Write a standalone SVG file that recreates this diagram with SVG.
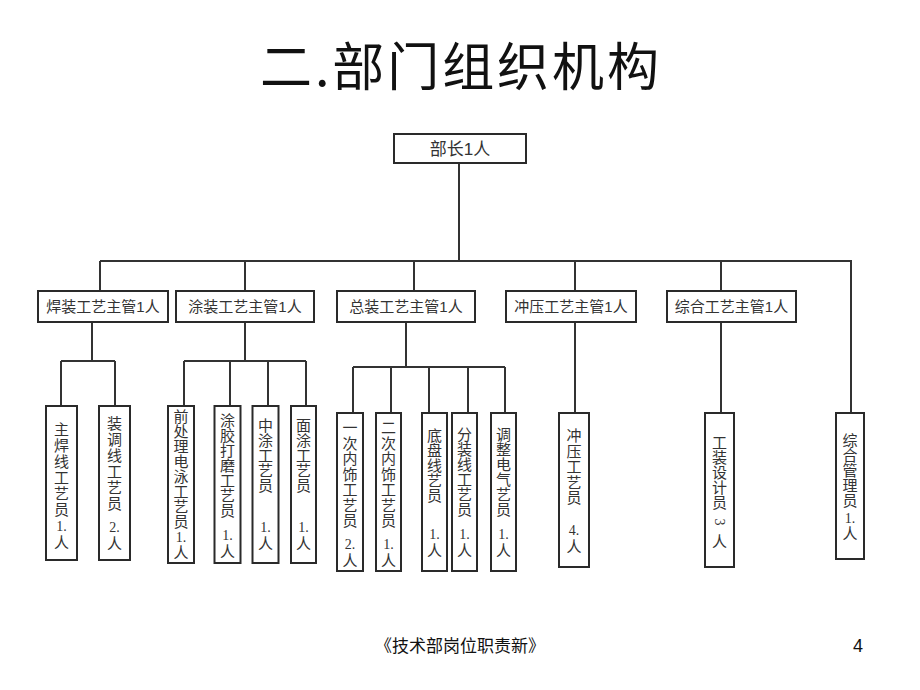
<svg xmlns="http://www.w3.org/2000/svg" width="920" height="690" viewBox="0 0 920 690">
<style>
.bg{fill:#fff}
.box{fill:#fff;stroke:#2a2a2a;stroke-width:2}
.ln{stroke:#333;stroke-width:2;fill:none}
.title{font-family:"Noto Sans CJK SC",sans-serif;font-size:52px;fill:#111}
.mt{font-family:"Liberation Sans","Noto Sans CJK SC",sans-serif;font-size:15px;fill:#333;text-anchor:middle}
.mt1{font-family:"Liberation Sans","Noto Sans CJK SC",sans-serif;font-size:17px;fill:#333;text-anchor:middle}
.vt{font-family:"Liberation Serif","Noto Sans CJK SC",serif;font-size:15px;fill:#333;text-anchor:middle}
.num{font-family:"Liberation Serif",serif;font-size:14px;fill:#333;text-anchor:middle}
.foot{font-family:"Liberation Sans","Noto Sans CJK SC",sans-serif;font-size:17px;fill:#111}
</style>
<rect class="bg" x="0" y="0" width="920" height="690"/>
<text class="title" x="260" y="86" textLength="399" lengthAdjust="spacing">二.部门组织机构</text>

<g id="connectors">
<path class="ln" d="M459,163V261M100,261H851V413M100,261V291M245,261V291M414,261V291M575,261V291M721,261V291"/>
<path class="ln" d="M92,322V361M61,361H115M61,361V406M115,361V406"/>
<path class="ln" d="M245,322V361M184,361H306M184,361V406M230,361V406M268,361V406M306,361V406"/>
<path class="ln" d="M406,322V367M353,367H505M353,367V413M391,367V413M429,367V413M468,367V413M505,367V413"/>
<path class="ln" d="M575,322V413M721,322V413"/>
</g>

<g id="head">
<rect class="box" x="394" y="134" width="132" height="29"/>
<text class="mt1" x="460" y="155">部长1人</text>
</g>

<g id="m1"><rect class="box" x="38" y="291" width="130" height="31"/><text class="mt" x="103" y="312">焊装工艺主管1人</text></g>
<g id="m2"><rect class="box" x="176" y="291" width="138" height="31"/><text class="mt" x="245" y="312">涂装工艺主管1人</text></g>
<g id="m3"><rect class="box" x="337" y="291" width="138" height="31"/><text class="mt" x="406" y="312">总装工艺主管1人</text></g>
<g id="m4"><rect class="box" x="506" y="291" width="130" height="31"/><text class="mt" x="571" y="312">冲压工艺主管1人</text></g>
<g id="m5"><rect class="box" x="667" y="291" width="129" height="31"/><text class="mt" x="731.5" y="312">综合工艺主管1人</text></g>

<g id="s1"><rect class="box" x="46" y="406" width="31" height="154"/>
<text class="vt"><tspan x="61.5" y="435">主</tspan><tspan x="61.5" y="451">焊</tspan><tspan x="61.5" y="467">线</tspan><tspan x="61.5" y="483">工</tspan><tspan x="61.5" y="499">艺</tspan><tspan x="61.5" y="515">员</tspan><tspan class="num" x="61.5" y="531">1.</tspan><tspan x="61.5" y="548">人</tspan></text></g>
<g id="s2"><rect class="box" x="99" y="406" width="31" height="154"/>
<text class="vt"><tspan x="114.5" y="429">装</tspan><tspan x="114.5" y="445">调</tspan><tspan x="114.5" y="461">线</tspan><tspan x="114.5" y="477">工</tspan><tspan x="114.5" y="493">艺</tspan><tspan x="114.5" y="509">员</tspan><tspan class="num" x="114.5" y="532">2.</tspan><tspan x="114.5" y="549">人</tspan></text></g>
<g id="s3"><rect class="box" x="168" y="406" width="26" height="157"/>
<text class="vt"><tspan x="181" y="422">前</tspan><tspan x="181" y="437">处</tspan><tspan x="181" y="452">理</tspan><tspan x="181" y="467">电</tspan><tspan x="181" y="482">泳</tspan><tspan x="181" y="497">工</tspan><tspan x="181" y="512">艺</tspan><tspan x="181" y="527">员</tspan><tspan class="num" x="181" y="542">1.</tspan><tspan x="181" y="558">人</tspan></text></g>
<g id="s4"><rect class="box" x="214.5" y="406" width="26" height="157"/>
<text class="vt"><tspan x="227.5" y="426">涂</tspan><tspan x="227.5" y="441">胶</tspan><tspan x="227.5" y="456">打</tspan><tspan x="227.5" y="471">磨</tspan><tspan x="227.5" y="486">工</tspan><tspan x="227.5" y="501">艺</tspan><tspan x="227.5" y="516">员</tspan><tspan class="num" x="227.5" y="540">1.</tspan><tspan x="227.5" y="557">人</tspan></text></g>
<g id="s5"><rect class="box" x="252.5" y="406" width="26" height="157"/>
<text class="vt"><tspan x="265.5" y="431">中</tspan><tspan x="265.5" y="446">涂</tspan><tspan x="265.5" y="461">工</tspan><tspan x="265.5" y="476">艺</tspan><tspan x="265.5" y="491">员</tspan><tspan class="num" x="265.5" y="532">1.</tspan><tspan x="265.5" y="549">人</tspan></text></g>
<g id="s6"><rect class="box" x="291" y="406" width="25" height="157"/>
<text class="vt"><tspan x="303.5" y="431">面</tspan><tspan x="303.5" y="446">涂</tspan><tspan x="303.5" y="461">工</tspan><tspan x="303.5" y="476">艺</tspan><tspan x="303.5" y="491">员</tspan><tspan class="num" x="303.5" y="532">1.</tspan><tspan x="303.5" y="549">人</tspan></text></g>

<g id="s7"><rect class="box" x="337" y="413" width="26" height="158"/>
<text class="vt"><tspan x="350" y="433">一</tspan><tspan x="350" y="448.5">次</tspan><tspan x="350" y="464">内</tspan><tspan x="350" y="479.5">饰</tspan><tspan x="350" y="495">工</tspan><tspan x="350" y="510.5">艺</tspan><tspan x="350" y="526">员</tspan><tspan class="num" x="350" y="549">2.</tspan><tspan x="350" y="566">人</tspan></text></g>
<g id="s8"><rect class="box" x="376" y="413" width="25" height="158"/>
<text class="vt"><tspan x="388.5" y="433">二</tspan><tspan x="388.5" y="448.5">次</tspan><tspan x="388.5" y="464">内</tspan><tspan x="388.5" y="479.5">饰</tspan><tspan x="388.5" y="495">工</tspan><tspan x="388.5" y="510.5">艺</tspan><tspan x="388.5" y="526">员</tspan><tspan class="num" x="388.5" y="549">1.</tspan><tspan x="388.5" y="566">人</tspan></text></g>
<g id="s9"><rect class="box" x="422" y="413" width="25" height="158"/>
<text class="vt"><tspan x="434.5" y="441">底</tspan><tspan x="434.5" y="456">盘</tspan><tspan x="434.5" y="471">线</tspan><tspan x="434.5" y="486">艺</tspan><tspan x="434.5" y="501">员</tspan><tspan class="num" x="434.5" y="539">1.</tspan><tspan x="434.5" y="556">人</tspan></text></g>
<g id="s10"><rect class="box" x="452" y="413" width="25" height="158"/>
<text class="vt"><tspan x="464.5" y="440">分</tspan><tspan x="464.5" y="455">装</tspan><tspan x="464.5" y="470">线</tspan><tspan x="464.5" y="485">工</tspan><tspan x="464.5" y="500">艺</tspan><tspan x="464.5" y="515">员</tspan><tspan class="num" x="464.5" y="539">1.</tspan><tspan x="464.5" y="556">人</tspan></text></g>
<g id="s11"><rect class="box" x="491" y="413" width="25" height="158"/>
<text class="vt"><tspan x="503.5" y="440">调</tspan><tspan x="503.5" y="455">整</tspan><tspan x="503.5" y="470">电</tspan><tspan x="503.5" y="485">气</tspan><tspan x="503.5" y="500">艺</tspan><tspan x="503.5" y="515">员</tspan><tspan class="num" x="503.5" y="539">1.</tspan><tspan x="503.5" y="556">人</tspan></text></g>

<g id="s12"><rect class="box" x="559" y="413" width="30" height="154"/>
<text class="vt"><tspan x="574" y="441">冲</tspan><tspan x="574" y="456.5">压</tspan><tspan x="574" y="472">工</tspan><tspan x="574" y="487.5">艺</tspan><tspan x="574" y="503">员</tspan><tspan class="num" x="574" y="535">4.</tspan><tspan x="574" y="552">人</tspan></text></g>
<g id="s13"><rect class="box" x="705" y="413" width="29" height="154"/>
<text class="vt"><tspan x="719.5" y="448">工</tspan><tspan x="719.5" y="463">装</tspan><tspan x="719.5" y="478">设</tspan><tspan x="719.5" y="493">计</tspan><tspan x="719.5" y="508">员</tspan><tspan x="719.5" y="547">人</tspan></text>
<text class="num" x="719.5" y="527" transform="rotate(90 719.5 522)">3</text></g>
<g id="s14"><rect class="box" x="836" y="413" width="28" height="146"/>
<text class="vt"><tspan x="850" y="446">综</tspan><tspan x="850" y="461">合</tspan><tspan x="850" y="476">管</tspan><tspan x="850" y="491">理</tspan><tspan x="850" y="506">员</tspan><tspan class="num" x="850" y="523">1.</tspan><tspan x="850" y="539">人</tspan></text></g>

<text class="foot" x="460" y="652" text-anchor="middle">《技术部岗位职责新》</text>
<text class="foot" x="858" y="652" text-anchor="middle" style="font-size:18px">4</text>
</svg>
